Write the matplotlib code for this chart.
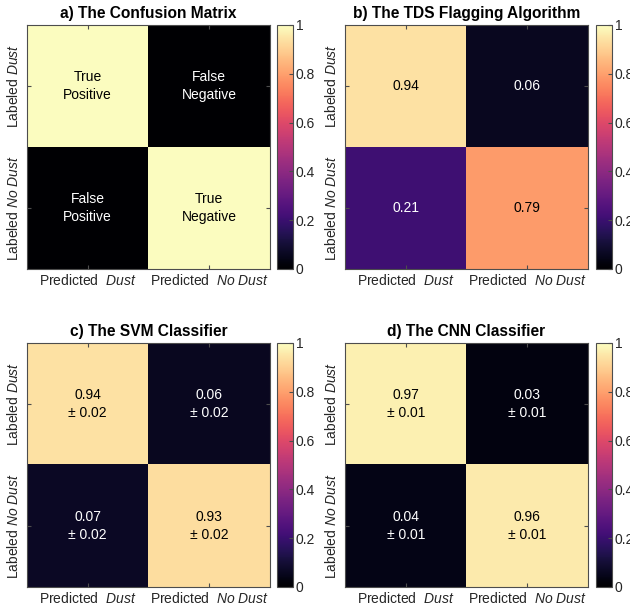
import numpy as np
import matplotlib.pyplot as plt

# ─────────────────────────────────────────────
# Data
# ─────────────────────────────────────────────

titles = ["a) The Confusion Matrix", "b) The TDS Flagging Algorithm",
          "c) The SVM Classifier", "d) The CNN Classifier"]

conf_ideal = [[1.0, 0.0], [0.0, 1.0]]
conf_tds   = [[0.94, 0.06], [0.21, 0.79]]
conf_svm   = [[0.94, 0.06], [0.07, 0.93]]
conf_cnn   = [[0.97, 0.03], [0.04, 0.96]]

err_svm = [[0.02, 0.02], [0.02, 0.02]]
err_cnn = [[0.01, 0.01], [0.01, 0.01]]

cell_names = [["True\nPositive", "False\nNegative"],
              ["False\nPositive", "True\nNegative"]]

x_labels = [r"Predicted  $\mathit{Dust}$", r"Predicted  $\mathit{No\ Dust}$"]
y_labels = [r"Labeled $\mathit{Dust}$", r"Labeled $\mathit{No\ Dust}$"]
cbar_ticks = [0, 0.2, 0.4, 0.6, 0.8, 1]

# ─────────────────────────────────────────────
# Style
# ─────────────────────────────────────────────

plt.rcParams["font.family"] = "Liberation Sans"
plt.rcParams["mathtext.fontset"] = "custom"
plt.rcParams["mathtext.rm"] = "Liberation Sans"
plt.rcParams["mathtext.it"] = "Liberation Sans:italic"

EDGE = "#4d4d4d"


def cell_text(i, j, panel):
    if panel == 0:
        return cell_names[i][j]
    if panel == 1:
        return f"{conf_tds[i][j]:.2f}"
    vals, errs = (conf_svm, err_svm) if panel == 2 else (conf_cnn, err_cnn)
    return f"{vals[i][j]:.2f}\n\u00b1 {errs[i][j]:.2f}"


def draw_panel(fig, pos, cpos, mat, title, panel):
    ax = fig.add_axes(pos)
    cax = fig.add_axes(cpos)
    mat = np.array(mat)
    im = ax.imshow(mat, cmap="magma", vmin=0, vmax=1, aspect="auto",
                   interpolation="nearest")
    for i in range(2):
        for j in range(2):
            color = "white" if mat[i, j] < 0.5 else "black"
            ax.text(j, i, cell_text(i, j, panel), ha="center", va="center",
                    fontsize=10, color=color, linespacing=1.3)
    ax.set_xticks([0, 1])
    ax.set_yticks([0, 1])
    ax.set_xticklabels(x_labels, fontsize=10, color="#262626")
    ax.set_yticklabels(y_labels, fontsize=10, color="#262626",
                       rotation=90, va="center")
    ax.tick_params(direction="in", length=3, color=EDGE,
                   top=True, right=True)
    ax.tick_params(axis="x", pad=3)
    ax.tick_params(axis="y", pad=4)
    for s in ax.spines.values():
        s.set_color(EDGE)
        s.set_linewidth(0.8)
    ax.set_title(title, fontsize=11.2, fontweight="bold", pad=5)

    cb = fig.colorbar(im, cax=cax, ticks=cbar_ticks)
    cb.ax.set_yticklabels([f"{t:g}" for t in cbar_ticks])
    cb.ax.tick_params(direction="in", length=3, labelsize=10,
                      color=EDGE, labelcolor="#262626", pad=2)
    cb.outline.set_edgecolor(EDGE)
    cb.outline.set_linewidth(0.8)


fig = plt.figure(figsize=(6.3, 6.09), dpi=100)

W, H = 630, 609
ax_w, ax_h = 243 / W, 244 / H
cb_w = 16 / W
lefts = [27 / W, 345 / W]
cb_lefts = [277 / W, 596 / W]
bottoms = [1 - 269 / H, 1 - 587 / H]

mats = [conf_ideal, conf_tds, conf_svm, conf_cnn]
for k in range(4):
    r, c = divmod(k, 2)
    draw_panel(fig,
               [lefts[c], bottoms[r], ax_w, ax_h],
               [cb_lefts[c], bottoms[r], cb_w, ax_h],
               mats[k], titles[k], k)

fig.savefig("out.png", dpi=100)
